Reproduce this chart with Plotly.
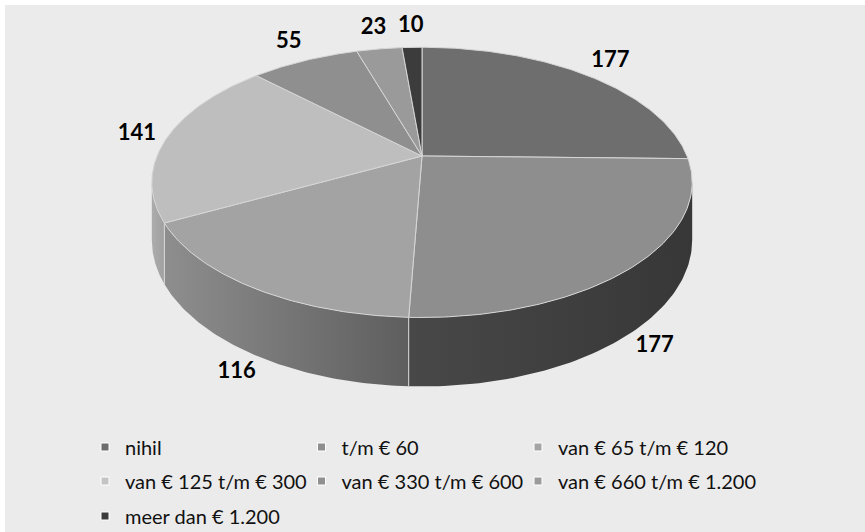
import numpy as np
import plotly.graph_objects as go

# ---- data ----
categories = ["nihil", "t/m € 60", "van € 65 t/m € 120", "van € 125 t/m € 300",
              "van € 330 t/m € 600", "van € 660 t/m € 1.200", "meer dan € 1.200"]
values = [177, 177, 116, 141, 55, 23, 10]
top_colors = ["#6E6E6E", "#8E8E8E", "#A3A3A3", "#BEBEBE", "#8F8F8F", "#9A9A9A", "#3C3C3C"]
side_colors = [("#5A5A5A", "#4A4A4A"), ("#484848", "#373737"), ("#8E8E8E", "#5E5E5E"),
               ("#ACACAC", "#A0A0A0"), ("#7A7A7A", "#6A6A6A"), ("#858585", "#757575"),
               ("#2E2E2E", "#262626")]
legend_colors = ["#6E6E6E", "#8E8E8E", "#A5A5A5", "#C4C4C4", "#909090", "#9B9B9B", "#3C3C3C"]

# ---- pseudo-3D projection (layout constants) ----
W, H_ = 865, 532
ML, MT = 5, 5
CX, CY = 422.0, 156.0      # pie apex on screen
RX, RY = 265.0, 130.0      # horizontal / depth radius
K = 0.195                  # perspective factor
DEPTH = 55.5               # side thickness
VIS_LO, VIS_HI = 180 - np.degrees(np.arccos(K)), 180 + np.degrees(np.arccos(K))


def proj(theta_deg, z=0.0):
    t = np.radians(theta_deg)
    u, v = np.sin(t), np.cos(t)
    d = 1 + K * v
    return CX + RX * u / d, CY + (-RY * v + z * DEPTH) / d


total = float(sum(values))
bounds = np.concatenate([[0.0], np.cumsum(values) / total * 360.0])

fig = go.Figure()

# side faces (front part of the cylinder)
for i in range(len(values)):
    a, b = max(bounds[i], VIS_LO), min(bounds[i + 1], VIS_HI)
    if b <= a:
        continue
    th = np.linspace(a, b, 80)
    xt, yt = proj(th, 0)
    xb, yb = proj(th[::-1], 1)
    fig.add_trace(go.Scatter(
        x=np.concatenate([xt, xb, xt[:1]]), y=np.concatenate([yt, yb, yt[:1]]),
        mode="lines", fill="toself", line=dict(width=0),
        fillgradient=dict(type="horizontal",
                          colorscale=[[0, side_colors[i][0]], [1, side_colors[i][1]]]),
        hoverinfo="skip", showlegend=False))

# light vertical edges at slice boundaries on the visible side
for bnd in bounds[1:-1]:
    if VIS_LO < bnd < VIS_HI:
        x0, y0 = proj(bnd, 0)
        x1, y1 = proj(bnd, 1)
        fig.add_trace(go.Scatter(x=[x0, x1], y=[y0, y1], mode="lines",
                                 line=dict(color="#D8D8D8", width=1),
                                 hoverinfo="skip", showlegend=False))

# top faces
for i in range(len(values)):
    th = np.linspace(bounds[i], bounds[i + 1], 120)
    xs, ys = proj(th, 0)
    fig.add_trace(go.Scatter(
        x=np.concatenate([[CX], xs, [CX]]), y=np.concatenate([[CY], ys, [CY]]),
        mode="lines", fill="toself", fillcolor=top_colors[i],
        line=dict(color="#D6D6D6", width=1),
        name=categories[i], hoverinfo="name+text", text=[str(values[i])] * (len(th) + 2),
        showlegend=False))

# data labels, placed outside each slice's rim along its mid angle
lab_x, lab_y = [], []
LW, LH, GAP = 37.0, 18.0, 12.0
for i in range(len(values)):
    mid = (bounds[i] + bounds[i + 1]) / 2
    t = np.radians(mid)
    u, v = np.sin(t), np.cos(t)
    px, py = proj(mid, 1.0 if v < 0 else 0.0)
    n = np.hypot(u, v)
    dx, dy = u / n, -v / n
    lab_x.append(px + dx * GAP + dx * LW / 2)
    lab_y.append(py + dy * GAP + dy * LH / 2)

fig.add_trace(go.Scatter(
    x=lab_x, y=lab_y, mode="text", text=[str(v) for v in values],
    textposition="middle center",
    textfont=dict(family="Lato", size=22, color="#000000", weight="bold"),
    hoverinfo="skip", showlegend=False))

# legend: one legend box per entry, laid out in a 3-column grid
LEG_X0, LEG_DX = 85, 216.5
LEG_Y = [447, 481, 516]
legend_layout = {}
for i, cat in enumerate(categories):
    key = "legend" if i == 0 else f"legend{i + 1}"
    fig.add_trace(go.Scatter(
        x=[None], y=[None], mode="markers", name=cat,
        marker=dict(symbol="square", size=8, color=legend_colors[i],
                    line=dict(color="white", width=1)),
        legend=key))
    col, row = i % 3, i // 3
    legend_layout[key] = dict(
        xref="paper", yref="paper",
        x=(LEG_X0 + col * LEG_DX - ML) / (W - ML), y=(H_ - LEG_Y[row]) / (H_ - MT),
        xanchor="left", yanchor="middle",
        bgcolor="rgba(0,0,0,0)", font=dict(family="Lato", size=20, color="#111111"),
        itemclick=False, itemdoubleclick=False)

fig.update_layout(
    width=W, height=H_,
    margin=dict(l=ML, t=MT, r=0, b=0, autoexpand=False),
    paper_bgcolor="white", plot_bgcolor="#EBEBEB",
    xaxis=dict(range=[ML, W], visible=False, fixedrange=True),
    yaxis=dict(range=[H_, MT], visible=False, fixedrange=True),
    showlegend=True,
    **legend_layout,
)

fig.write_html("out.html", config={"displayModeBar": False},
               post_script="document.body.style.margin='0';document.body.style.padding='0';")
